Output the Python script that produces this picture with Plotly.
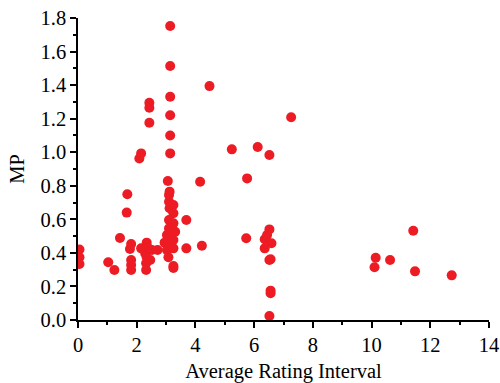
import plotly.graph_objects as go

# Average Rating Interval (x) and MP (y)
x_vals = [
    0.05, 0.05, 0.05,
    1.03, 1.24, 1.43, 1.66, 1.68, 1.77, 1.81, 1.81, 1.81, 1.81,
    2.09, 2.15, 2.15, 2.29, 2.32, 2.32, 2.34, 2.34, 2.40, 2.43, 2.43, 2.43, 2.46, 2.52, 2.71,
    2.95, 3.03, 3.03, 3.06, 3.08, 3.10, 3.10, 3.10, 3.10, 3.10, 3.12, 3.12, 3.12, 3.14, 3.14,
    3.14, 3.14, 3.14, 3.14, 3.25, 3.25, 3.25, 3.25, 3.25, 3.25, 3.25, 3.31,
    3.69, 3.69, 4.16, 4.22, 4.48,
    5.24, 5.73, 5.76, 6.12, 6.36, 6.36, 6.44, 6.52, 6.52, 6.52, 6.56, 6.56, 6.56, 6.59,
    6.52, 7.26,
    10.10, 10.14, 10.63, 11.42, 11.48, 12.73,
]
y_vals = [
    0.42, 0.374, 0.334,
    0.344, 0.298, 0.489, 0.64, 0.749, 0.423, 0.453, 0.358, 0.328, 0.298,
    0.963, 0.993, 0.427, 0.397, 0.338, 0.298, 0.461, 0.374, 0.427, 1.295, 1.265, 1.176, 0.358, 0.417, 0.417,
    0.461, 0.506, 0.417, 0.828, 0.374, 0.745, 0.705, 0.596, 0.546, 0.486, 0.765, 0.666, 0.447, 1.752, 1.514,
    1.331, 1.22, 1.10, 0.993, 0.685, 0.636, 0.576, 0.477, 0.427, 0.322, 0.31, 0.526,
    0.596, 0.427, 0.824, 0.443, 1.394,
    1.017, 0.487, 0.844, 1.031, 0.481, 0.427, 0.506, 0.54, 0.983, 0.024, 0.362, 0.175, 0.159, 0.457,
    0.358, 1.208,
    0.314, 0.371, 0.358, 0.532, 0.29, 0.266,
]

x_ticks = [0, 2, 4, 6, 8, 10, 12, 14]
y_ticks = [0.0, 0.2, 0.4, 0.6, 0.8, 1.0, 1.2, 1.4, 1.6, 1.8]

font_family = "Liberation Serif, Times New Roman, serif"
fsize = 20.5

fig = go.Figure(
    go.Scatter(
        x=x_vals,
        y=y_vals,
        mode="markers",
        marker=dict(size=10, color="#ED1C24", line=dict(width=0)),
        cliponaxis=True,
        showlegend=False,
    )
)

axis_common = dict(
    showline=True,
    linecolor="black",
    linewidth=1.5,
    ticks="outside",
    ticklen=6,
    tickwidth=1.5,
    tickcolor="black",
    showgrid=False,
    zeroline=False,
    mirror=False,
    automargin=False,
    tickfont=dict(family=font_family, size=fsize, color="black"),
    title_font=dict(family=font_family, size=fsize, color="black"),
)

fig.update_xaxes(
    range=[0, 14],
    tickvals=x_ticks,
    ticktext=[str(v) for v in x_ticks],
    title_text="Average Rating Interval",
    title_standoff=8,
    minor=dict(ticks="outside", ticklen=3, tickwidth=1.5, tickcolor="black", dtick=1, tick0=0),
    **axis_common,
)
fig.update_yaxes(
    range=[0, 1.8],
    tickvals=y_ticks,
    ticktext=[f"{v:.1f}" for v in y_ticks],
    title_text="MP",
    title_standoff=10,
    minor=dict(ticks="outside", ticklen=3, tickwidth=1.5, tickcolor="black", dtick=0.1, tick0=0),
    **axis_common,
)

fig.update_layout(
    width=500,
    height=383,
    margin=dict(l=78, r=11, t=18, b=63),
    paper_bgcolor="white",
    plot_bgcolor="white",
    font=dict(family=font_family, size=fsize, color="black"),
)

fig.write_html("out.html")
